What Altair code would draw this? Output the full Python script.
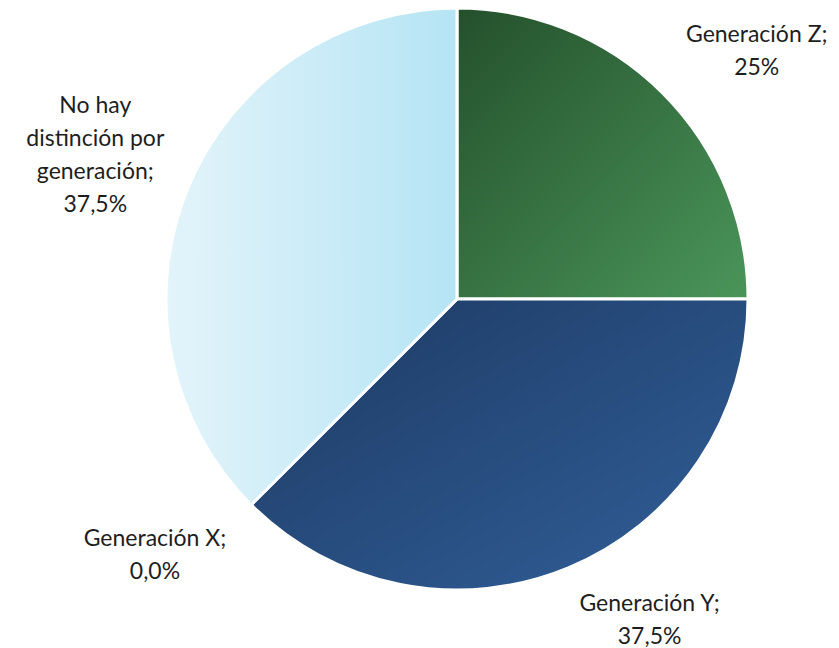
import altair as alt
import pandas as pd

# ---- data ----
categories = ["Generación Z", "Generación Y", "Generación X", "No hay distinción por generación"]
values = [25.0, 37.5, 0.0, 37.5]
label_lines = [
    ["Generación Z;", "25%"],
    ["Generación Y;", "37,5%"],
    ["Generación X;", "0,0%"],
    ["No hay", "distinción por", "generación;", "37,5%"],
]

# ---- layout / style (not data) ----
W, H = 823, 640
CX, CY, R = 449, 291, 291
LH = 33
label_angle_deg = [50.4, 149.1, 229.7, 291.6]
label_radius = [389, 375, 396, 389]
gradients = [
    alt.Gradient(gradient="linear", x1=0, y1=0, x2=1, y2=1,
                 stops=[alt.GradientStop(color="#24502b", offset=0),
                        alt.GradientStop(color="#4a955a", offset=1)]),
    alt.Gradient(gradient="linear", x1=0, y1=0, x2=1, y2=1,
                 stops=[alt.GradientStop(color="#1d3a63", offset=0),
                        alt.GradientStop(color="#315f99", offset=1)]),
    alt.Gradient(gradient="linear", x1=0, y1=0, x2=1, y2=1,
                 stops=[alt.GradientStop(color="#c8c8c8", offset=0),
                        alt.GradientStop(color="#a0a0a0", offset=1)]),
    alt.Gradient(gradient="linear", x1=0, y1=0, x2=1, y2=0,
                 stops=[alt.GradientStop(color="#e3f4fa", offset=0),
                        alt.GradientStop(color="#b5e4f4", offset=1)]),
]

df = pd.DataFrame({
    "cat": categories,
    "value": values,
    "order": list(range(len(categories))),
    "label": label_lines,
    "nlines": [len(l) for l in label_lines],
    "ang_deg": label_angle_deg,
    "lr": label_radius,
})

base = alt.Chart(df).transform_window(
    cum="sum(value)", sort=[alt.SortField("order")], frame=[None, 0]
).transform_calculate(
    start="(datum.cum - datum.value) / 100 * 2 * PI",
    end="datum.cum / 100 * 2 * PI",
    lx=f"{CX} + datum.lr * sin(datum.ang_deg * PI / 180)",
    ly=f"{CY} - datum.lr * cos(datum.ang_deg * PI / 180) - (datum.nlines - 1) * {LH} / 2",
)

layers = []
for i, c in enumerate(categories):
    layers.append(
        base.transform_filter(alt.datum.cat == c).mark_arc(
            fill=gradients[i], stroke="white", strokeWidth=3, strokeJoin="round"
        ).encode(
            theta=alt.Theta("start:Q", scale=None),
            theta2="end:Q",
            radius=alt.value(R),
            x=alt.value(CX),
            y=alt.value(CY),
        )
    )

text = base.mark_text(
    font="Lato", fontSize=23, color="#1e1e1e", align="center", baseline="middle",
    lineHeight=LH,
).encode(
    x=alt.X("lx:Q", scale=None, axis=None),
    y=alt.Y("ly:Q", scale=None, axis=None),
    text="label",
)

chart = alt.layer(*layers, text).properties(
    width=W, height=H, padding=0, background="white",
    autosize=alt.AutoSizeParams(type="none"),
).configure_view(stroke=None)

chart.save("out.html", embed_options={"renderer": "svg", "actions": False})
